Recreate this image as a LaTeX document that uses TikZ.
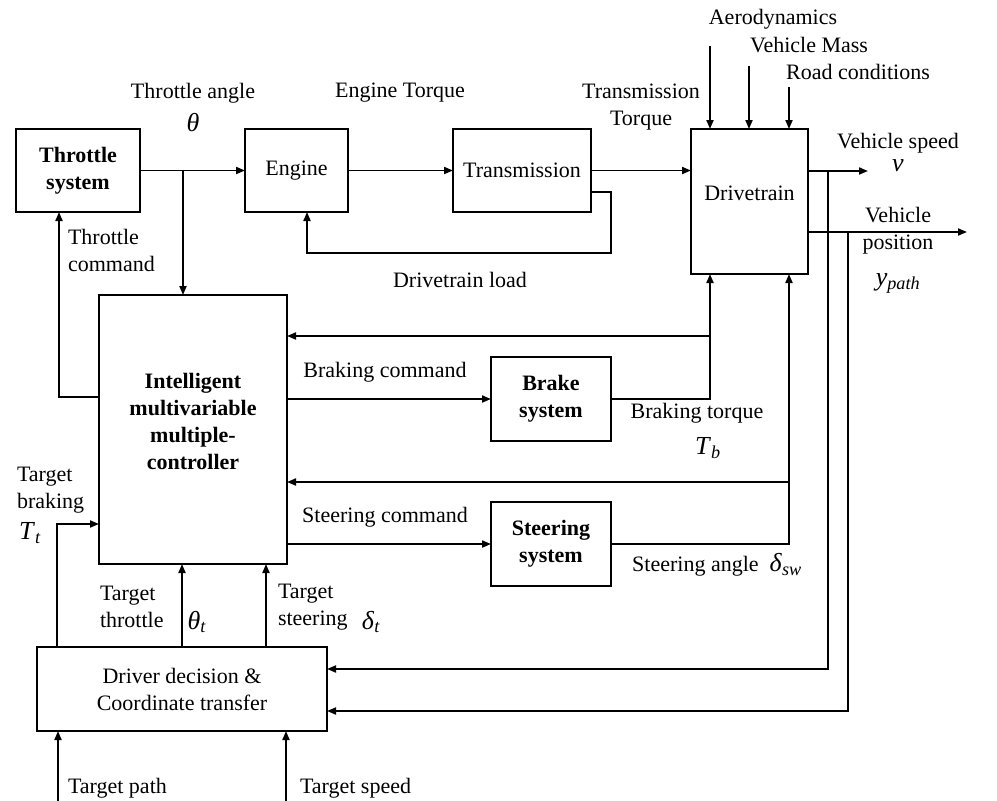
\documentclass[tikz,border=0pt]{standalone}
\usepackage{fontspec}
\setmainfont{Liberation Serif}
\usetikzlibrary{arrows.meta}

\newcommand{\sy}[1]{{\fontsize{26}{28}\selectfont\textit{#1}}}
\newcommand{\sv}[2]{{\fontsize{26}{28}\selectfont\textit{#1}\textsubscript{\textit{#2}}}}

\tikzset{
  blk/.style={draw, line width=2.2pt, align=center},
  bblk/.style={blk, font=\fontsize{22}{27}\selectfont\bfseries},
  lbl/.style={align=center},
  con/.style={line width=1.9pt},
  arr/.style={con, -{Triangle[length=9pt,width=7pt]}},
}

\begin{document}
\begin{tikzpicture}[x=1pt,y=-1pt,inner sep=0pt,outer sep=0pt,
    every node/.style={font=\fontsize{22}{27}\selectfont}]
  \useasboundingbox (0,0) rectangle (997,801);
    %
  \node[bblk, minimum width=124pt, minimum height=83pt] (throttle_sys) at (78,170.5) {Throttle\\system};
  \node[blk, minimum width=103pt, minimum height=83pt] (engine) at (296.5,170.5) {Engine};
  \node[blk, minimum width=138pt, minimum height=83pt] (transmission) at (522,170.5) {Transmission};
  \node[blk, minimum width=117pt, minimum height=145pt] (drivetrain) at (749.5,201.5) {};
  \node (drive_txt) at (749.5,193) {Drivetrain};
  \node[blk, minimum width=188pt, minimum height=269pt] (ctrl) at (193,429.5) {};
  \node[bblk, draw=none] (ctrl_txt) at (193,421) {Intelligent\\multivariable\\multiple-\\controller};
  \node[bblk, minimum width=120pt, minimum height=84pt] (brake) at (551,399) {Brake\\system};
  \node[bblk, minimum width=120pt, minimum height=84pt] (steer) at (551,544) {Steering\\system};
  \node[blk, minimum width=290pt, minimum height=84pt] (driver) at (182,689) {Driver decision \&\\Coordinate transfer};

  % labels
  \node (lbl_thangle) at (193,93) {Throttle angle};
  \node (lbl_theta) at (193,123) {\sy{θ}};
  \node (lbl_etorque) at (400,93) {Engine Torque};
  \node[lbl] (lbl_ttorque) at (641,107) {Transmission\\Torque};
  \node (lbl_aero) at (773,19) {Aerodynamics};
  \node (lbl_mass) at (809,45) {Vehicle Mass};
  \node (lbl_road) at (858,72) {Road conditions};
  \node (lbl_vspeed) at (898,143) {Vehicle speed};
  \node (lbl_v) at (898,166) {\sy{v}};
  \node[lbl] (lbl_vpos) at (898,231) {Vehicle\\position};
  \node (lbl_ypath) at (898,283) {\sv{y}{path}};
  \node[anchor=west, align=left] (lbl_thcmd) at (68,250) {Throttle\\command};
  \node (lbl_load) at (460,280) {Drivetrain load};
  \node (lbl_bcmd) at (385,372) {Braking command};
  \node (lbl_scmd) at (385,517) {Steering command};
  \node (lbl_btorque) at (697,413) {Braking torque};
  \node (lbl_Tb) at (708,448) {\sv{T}{b}};
  \node (lbl_sangle) at (717,565) {Steering angle \ \sv{δ}{sw}};
  \node[anchor=west, align=left] (lbl_tbrake) at (17,490) {Target\\braking};
  \node (lbl_Tt) at (30,533) {\sv{T}{t}};
  \node[anchor=west, align=left] (lbl_tthr) at (100,607) {Target\\throttle};
  \node (lbl_thetat) at (197,622) {\sv{θ}{t}};
  \node[anchor=west, align=left] (lbl_tsteer) at (278,607) {Target\\steering};
  \node (lbl_deltat) at (371,622) {\sv{δ}{t}};
  \node[anchor=west] (lbl_tpath) at (68,788) {Target path};
  \node[anchor=west] (lbl_tspeed) at (300,788) {Target speed};

  % forward path
  \coordinate (th_branch) at (183,170.5);
  \draw[arr] (throttle_sys.east) -- (engine.west);
  \draw[arr] (th_branch) -- (th_branch |- ctrl.north);
  \draw[arr] (engine.east) -- (transmission.west);
  \draw[arr] (transmission.east) -- (drivetrain.west |- transmission.east);

  % drivetrain load
  \coordinate (load_r) at (611,253);
  \draw[arr] ([yshift=-21.5pt]transmission.east) -| (load_r) -| ([xshift=10.5pt]engine.south);

  % disturbances
  \coordinate (aero_in) at (710,46);
  \coordinate (mass_in) at (749,66);
  \coordinate (road_in) at (789,87);
  \draw[arr] (aero_in) -- (aero_in |- drivetrain.north);
  \draw[arr] (mass_in) -- (mass_in |- drivetrain.north);
  \draw[arr] (road_in) -- (road_in |- drivetrain.north);

  % outputs and feedback to driver
  \coordinate (spd_end) at (868,171);
  \coordinate (pos_end) at (967,232);
  \coordinate (spd_fb) at (828,171);
  \coordinate (pos_fb) at (848,232);
  \draw[arr] (drivetrain.east |- spd_end) -- (spd_end);
  \draw[arr] (drivetrain.east |- pos_end) -- (pos_end);
  \draw[arr] (spd_fb) |- ([yshift=20pt]driver.east);
  \draw[arr] (pos_fb) |- ([yshift=-22pt]driver.east);

  % brake and steering loops
  \coordinate (brk_fb) at (710,336);
  \coordinate (str_fb) at (789,482);
  \draw[arr] (ctrl.east |- brake.west) -- (brake.west);
  \draw[arr] (brake.east) -| ([xshift=-39.5pt]drivetrain.south);
  \draw[arr] (brk_fb) -- (brk_fb -| ctrl.east);
  \draw[arr] (ctrl.east |- steer.west) -- (steer.west);
  \draw[arr] (steer.east) -| ([xshift=39.5pt]drivetrain.south);
  \draw[arr] (str_fb) -- (str_fb -| ctrl.east);

  % controller inputs
  \draw[arr] ([yshift=32.5pt]ctrl.west) -| ([xshift=-19pt]throttle_sys.south);
  \draw[arr] ([xshift=-125pt]driver.north) |- ([yshift=-94.5pt]ctrl.west);
  \draw[arr] (driver.north) -- (driver.north |- ctrl.south);
  \draw[arr] ([xshift=84pt]driver.north) -- ([xshift=73pt]ctrl.south);

  % targets
  \coordinate (tpath_in) at (58,801);
  \coordinate (tspeed_in) at (286,801);
  \draw[arr] (tpath_in) -- (tpath_in |- driver.south);
  \draw[arr] (tspeed_in) -- (tspeed_in |- driver.south);

\end{tikzpicture}
\end{document}
